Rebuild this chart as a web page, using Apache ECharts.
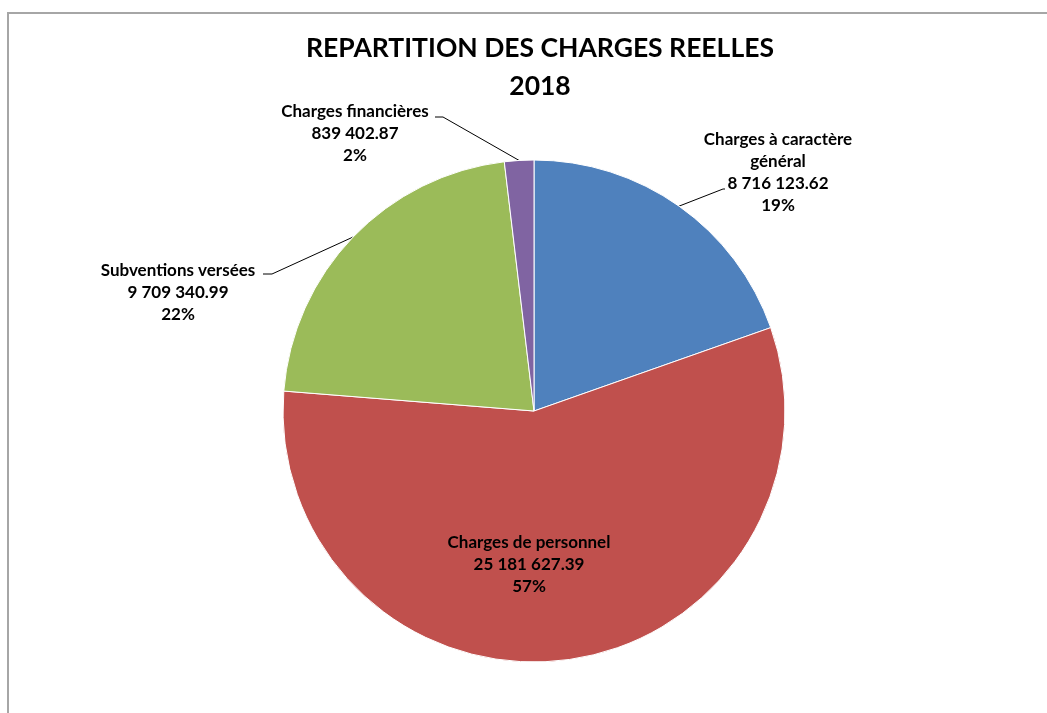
<!DOCTYPE html>
<html>
<head>
<meta charset="utf-8">
<script src="https://cdn.jsdelivr.net/npm/echarts@6/dist/echarts.min.js"></script>
<style>
  html, body { margin: 0; padding: 0; background: #fff; }
  #main { width: 1047px; height: 713px; }
</style>
</head>
<body>
<div id="main"></div>
<script>
// données
var categories = ['Charges à caractère général', 'Charges de personnel', 'Subventions versées', 'Charges financières'];
var labelNames = ['Charges à caractère\ngénéral', 'Charges de personnel', 'Subventions versées', 'Charges financières'];
var values = [8716123.62, 25181627.39, 9709340.99, 839402.87];
var percents = ['19%', '57%', '22%', '2%'];
var colors = ['#4F81BD', '#C0504D', '#9BBB59', '#8064A2'];

// position des étiquettes (centre du bloc texte) et coude de la ligne de rappel
var labelPos = [[778, 173], [529, 565], [178, 293], [355, 134]];
var elbows = [[[723, 189], [725, 189]], null, [[272, 274], [263, 274]], [[443, 117], [435, 117]]];

function fmt(v) {
  var parts = v.toFixed(2).split('.');
  return parts[0].replace(/\B(?=(\d{3})+(?!\d))/g, ' ') + '.' + parts[1];
}

var myChart = echarts.init(document.getElementById('main'));
myChart.setOption({
  animation: false,
  graphic: [{
    type: 'rect',
    shape: { x: 8, y: 13, width: 1200, height: 900 },
    style: { fill: 'none', stroke: '#a6a6a6', lineWidth: 2 }
  }],
  title: {
    text: 'REPARTITION DES CHARGES REELLES\n2018',
    left: 535,
    top: 24,
    textAlign: 'center',
    textStyle: {
      fontFamily: 'Lato',
      fontWeight: 'bold',
      fontSize: 26.5,
      lineHeight: 38,
      color: '#000'
    }
  },
  series: [{
    type: 'pie',
    center: [534, 411],
    radius: 251,
    startAngle: 90,
    clockwise: true,
    avoidLabelOverlap: false,
    itemStyle: { borderColor: '#fff', borderWidth: 1 },
    label: {
      fontFamily: 'Lato',
      fontWeight: 'bold',
      fontSize: 17,
      lineHeight: 22,
      color: '#000',
      align: 'center',
      formatter: function (p) {
        return labelNames[p.dataIndex] + '\n' + fmt(p.value) + '\n' + percents[p.dataIndex];
      }
    },
    labelLine: {
      show: true,
      lineStyle: { color: '#000', width: 1 }
    },
    labelLayout: function (params) {
      var i = params.dataIndex;
      var res = {
        x: labelPos[i][0],
        y: labelPos[i][1],
        align: 'center',
        verticalAlign: 'middle'
      };
      if (elbows[i] && params.labelLinePoints) {
        res.labelLinePoints = [params.labelLinePoints[0], elbows[i][0], elbows[i][1]];
      }
      return res;
    },
    data: values.map(function (v, i) {
      var d = { name: categories[i], value: v, itemStyle: { color: colors[i] } };
      if (i === 1) {
        d.label = { position: 'inside' };
        d.labelLine = { show: false };
      }
      return d;
    })
  }]
});
</script>
</body>
</html>
